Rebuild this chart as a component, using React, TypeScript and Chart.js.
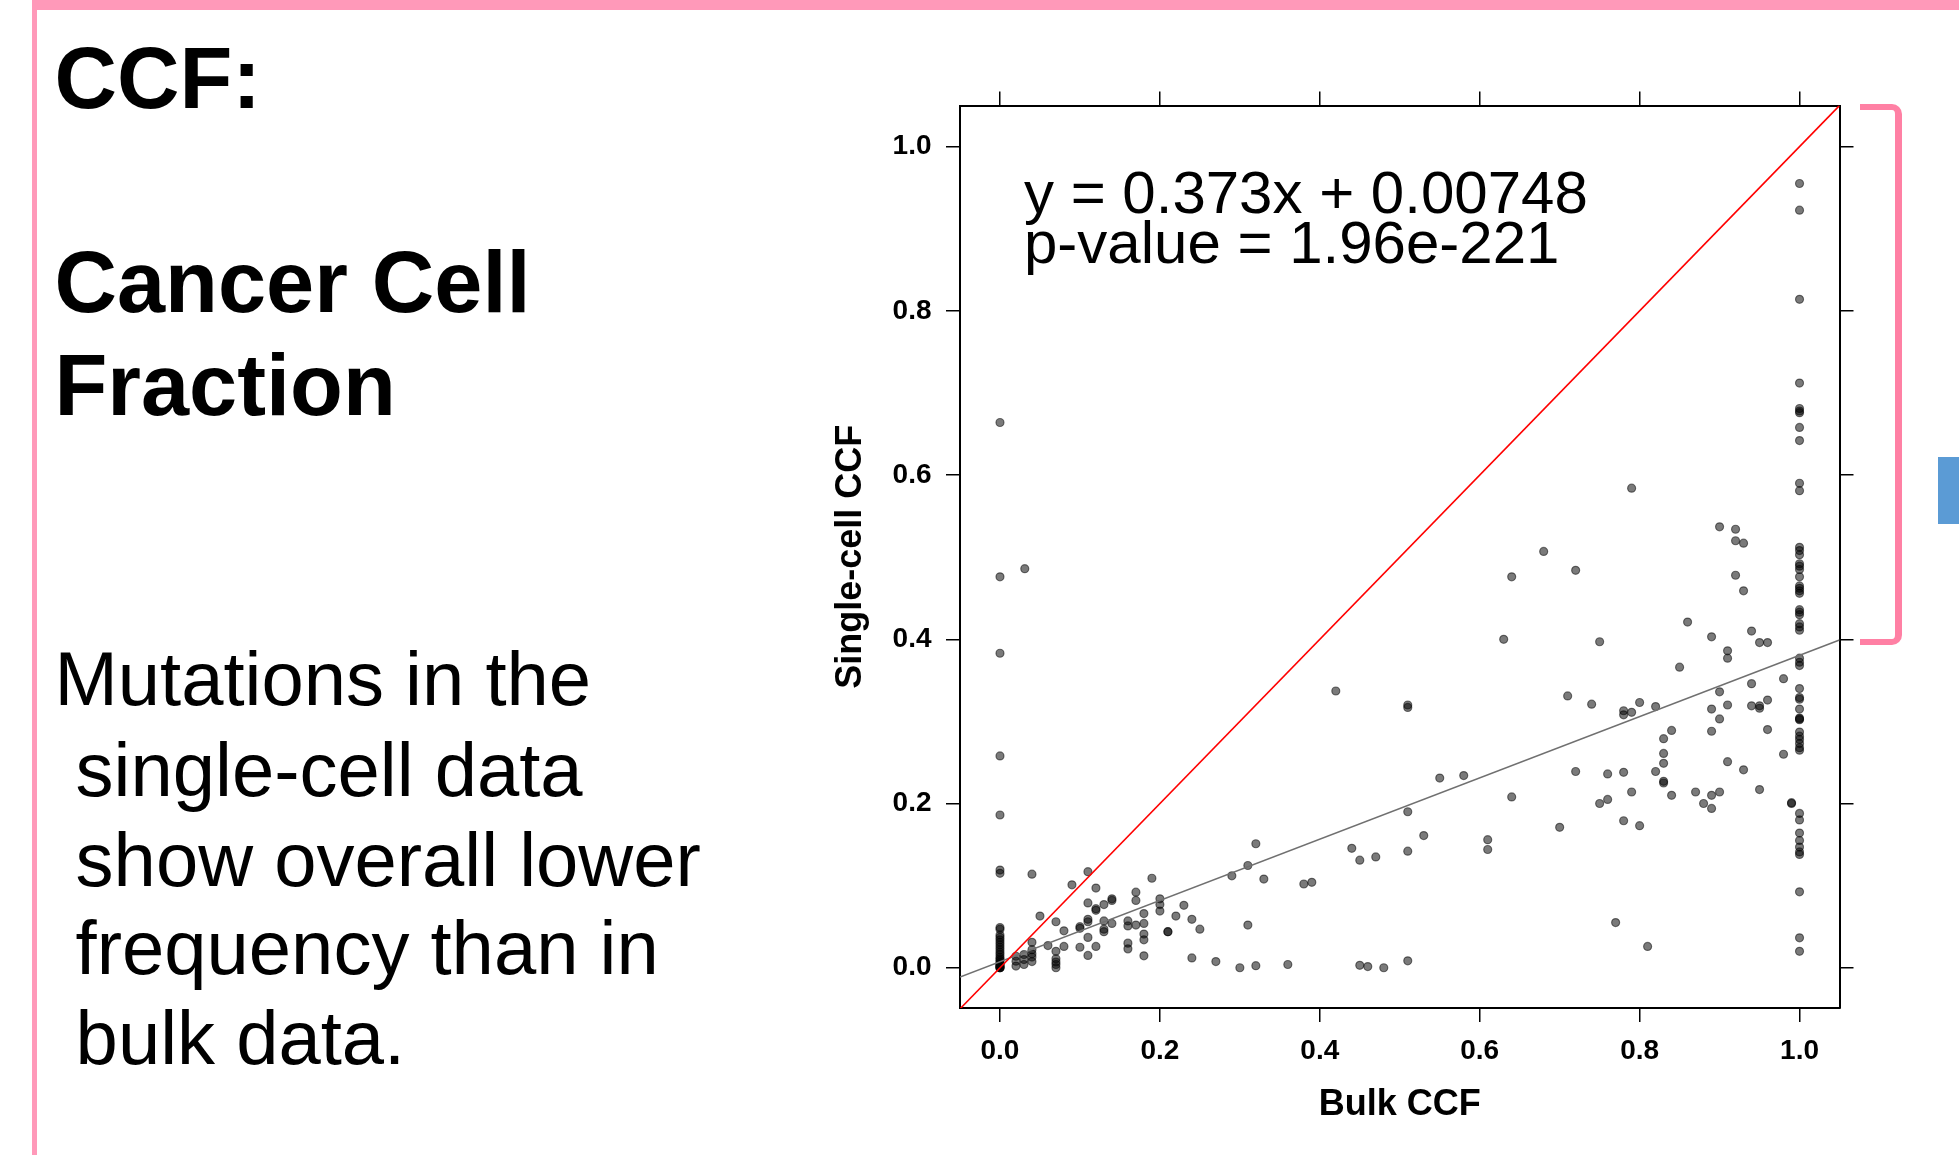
import React, { useEffect, useRef } from "react";
import { Chart, registerables } from "chart.js";

Chart.register(...registerables);

// ---------- data ----------
const bulkCCF = [
  // x = 0 column
  0, 0, 0, 0, 0, 0, 0, 0, 0, 0, 0, 0, 0, 0, 0, 0, 0, 0, 0, 0, 0, 0, 0, 0, 0, 0, 0, 0, 0, 0,
  // low bulk CCF
  0.031, 0.02, 0.02, 0.02, 0.03, 0.03, 0.03, 0.04, 0.04, 0.04, 0.04, 0.04, 0.04, 0.05, 0.06,
  0.07, 0.07, 0.07, 0.07, 0.07, 0.07, 0.08, 0.08, 0.09, 0.1, 0.1, 0.1, 0.11, 0.11, 0.11, 0.11,
  0.11, 0.11, 0.12, 0.12, 0.12, 0.12, 0.13, 0.13, 0.13, 0.13, 0.14, 0.14, 0.14, 0.16, 0.16,
  0.16, 0.16, 0.17, 0.17, 0.17, 0.18, 0.18, 0.18, 0.18, 0.18, 0.19, 0.2, 0.2, 0.2, 0.21, 0.21,
  0.22, 0.23, 0.24, 0.24, 0.25, 0.27, 0.29, 0.3, 0.31, 0.31, 0.32, 0.32, 0.33, 0.36, 0.38,
  0.39, 0.42, 0.44, 0.45, 0.45, 0.46, 0.47, 0.48,
  // mid bulk CCF
  0.51, 0.51, 0.51, 0.51, 0.51, 0.53, 0.55, 0.58, 0.61, 0.61, 0.63, 0.64, 0.64, 0.68, 0.7,
  0.71, 0.72, 0.72, 0.74, 0.75, 0.75, 0.76, 0.76, 0.77, 0.78, 0.78, 0.78, 0.78, 0.79, 0.79,
  0.79, 0.8, 0.8, 0.81,
  // high bulk CCF
  0.82, 0.82, 0.83, 0.83, 0.83, 0.83, 0.83, 0.84, 0.84, 0.85, 0.86, 0.87, 0.88, 0.89, 0.89,
  0.89, 0.89, 0.89, 0.9, 0.9, 0.9, 0.9, 0.91, 0.91, 0.91, 0.91, 0.92, 0.92, 0.92, 0.93, 0.93,
  0.93, 0.94, 0.94, 0.94, 0.95, 0.95, 0.95, 0.95, 0.96, 0.96, 0.96, 0.98, 0.98, 0.99, 0.99,
  // x = 1 column
  1, 1, 1, 1, 1, 1, 1, 1, 1, 1, 1, 1, 1, 1, 1, 1, 1, 1, 1, 1, 1, 1, 1, 1, 1, 1, 1, 1, 1, 1,
  1, 1, 1, 1, 1, 1, 1, 1, 1, 1, 1, 1, 1, 1, 1, 1, 1, 1, 1, 1, 1, 1, 1, 1,
];

const singleCellCCF = [
  // x = 0 column
  0.664, 0.476, 0.383, 0.258, 0.186, 0.119, 0.115, 0.049, 0.047, 0.04, 0.037, 0.034, 0.031,
  0.028, 0.025, 0.022, 0.019, 0.016, 0.013, 0.011, 0.009, 0.007, 0.005, 0.003, 0.002, 0.001,
  0.0, 0.0, 0.0, 0.004,
  // low bulk CCF
  0.486, 0.014, 0.008, 0.002, 0.016, 0.01, 0.004, 0.114, 0.031, 0.022, 0.017, 0.013, 0.0075,
  0.063, 0.027, 0.056, 0.02, 0.011, 0.007, 0.004, 0.0, 0.045, 0.026, 0.101, 0.05, 0.048, 0.025,
  0.117, 0.079, 0.059, 0.056, 0.037, 0.015, 0.097, 0.072, 0.07, 0.026, 0.077, 0.057, 0.047,
  0.044, 0.084, 0.082, 0.054, 0.057, 0.051, 0.03, 0.023, 0.092, 0.082, 0.052, 0.066, 0.054,
  0.041, 0.034, 0.0145, 0.109, 0.084, 0.077, 0.069, 0.044, 0.044, 0.063, 0.076, 0.059, 0.012,
  0.047, 0.0075, 0.112, 0.0, 0.1245, 0.052, 0.151, 0.0025, 0.108, 0.004, 0.102, 0.104, 0.337,
  0.1455, 0.131, 0.003, 0.0015, 0.135, 0.0,
  // mid bulk CCF
  0.32, 0.317, 0.19, 0.142, 0.0085, 0.161, 0.231, 0.234, 0.156, 0.144, 0.4, 0.476, 0.208,
  0.507, 0.171, 0.331, 0.484, 0.239, 0.321, 0.397, 0.2, 0.236, 0.205, 0.055, 0.313, 0.308,
  0.238, 0.179, 0.584, 0.311, 0.214, 0.323, 0.173, 0.026,
  // high bulk CCF
  0.318, 0.239, 0.279, 0.261, 0.249, 0.227, 0.225, 0.289, 0.21, 0.366, 0.421, 0.214, 0.2,
  0.403, 0.315, 0.288, 0.21, 0.194, 0.537, 0.336, 0.303, 0.214, 0.386, 0.377, 0.32, 0.251,
  0.534, 0.52, 0.478, 0.517, 0.459, 0.241, 0.41, 0.346, 0.319, 0.396, 0.319, 0.316, 0.217,
  0.396, 0.326, 0.29, 0.352, 0.26, 0.201, 0.2,
  // x = 1 column
  0.955, 0.9225, 0.814, 0.712, 0.681, 0.678, 0.676, 0.658, 0.642, 0.59, 0.581, 0.512, 0.508,
  0.503, 0.492, 0.489, 0.485, 0.476, 0.465, 0.462, 0.459, 0.456, 0.436, 0.433, 0.43, 0.419,
  0.415, 0.411, 0.377, 0.372, 0.368, 0.34, 0.329, 0.327, 0.315, 0.304, 0.303, 0.302, 0.287,
  0.282, 0.278, 0.273, 0.268, 0.265, 0.188, 0.18, 0.164, 0.155, 0.147, 0.141, 0.138, 0.0925,
  0.0365, 0.02,
];

const tickValues = [0, 0.2, 0.4, 0.6, 0.8, 1.0];
const xMin = -0.05;
const xMax = 1.05;
const yMin = -0.049;
const yMax = 1.05;

// y = x reference line and fitted line (y = 0.373x + 0.00748) end points
const identityX = [-0.05, 1.05];
const identityY = [-0.05, 1.05];
const fitX = [-0.05, 1.05];
const fitY = [-0.01117, 0.39913];

const annotationLines = ["y = 0.373x + 0.00748", "p-value = 1.96e-221"];
const annotationX = 0.03;
const annotationY = [0.919, 0.858];

const xTitle = "Bulk CCF";
const yTitle = "Single-cell CCF";

const headingLines = ["CCF:", "Cancer Cell", "Fraction"];
const bodyLines = ["Mutations in the", " single-cell data", " show overall lower", " frequency than in", " bulk data."];

// ---------- styling ----------
const FONT = '"Liberation Sans", Arial, Helvetica, sans-serif';
const PINK = "#FF99B9";
const BRACKET_PINK = "#FF80A4";

const setTicks = (axis: any) => {
  axis.ticks = tickValues.map((v) => ({ value: v }));
};

const gridOpts = {
  display: true,
  drawOnChartArea: false,
  drawTicks: true,
  tickLength: 14,
  color: "#000",
  lineWidth: 1.5,
};
const borderOpts = { display: true, color: "#000", width: 2 };

const annotationPlugin = {
  id: "annotationText",
  afterDatasetsDraw(chart: any) {
    const { ctx, scales } = chart;
    const xs = scales.x;
    const ys = scales.y;
    ctx.save();
    ctx.font = `60px ${FONT}`;
    ctx.fillStyle = "#000";
    ctx.textAlign = "left";
    ctx.textBaseline = "alphabetic";
    annotationLines.forEach((t, i) => {
      ctx.fillText(t, xs.getPixelForValue(annotationX), ys.getPixelForValue(annotationY[i]));
    });
    ctx.restore();
  },
};

function ScatterChart() {
  const ref = useRef<HTMLCanvasElement | null>(null);
  useEffect(() => {
    if (!ref.current) return;
    const points = bulkCCF.map((x, i) => ({ x, y: singleCellCCF[i] }));
    const chart = new Chart(ref.current, {
      type: "scatter",
      data: {
        datasets: [
          {
            type: "line",
            label: "y = x",
            data: identityX.map((x, i) => ({ x, y: identityY[i] })),
            borderColor: "#ff0000",
            borderWidth: 1.6,
            pointRadius: 0,
            fill: false,
            order: 0,
          } as any,
          {
            type: "line",
            label: "fit",
            data: fitX.map((x, i) => ({ x, y: fitY[i] })),
            borderColor: "#707070",
            borderWidth: 1.5,
            pointRadius: 0,
            fill: false,
            order: 1,
          } as any,
          {
            type: "scatter",
            label: "mutations",
            data: points,
            backgroundColor: "rgba(0,0,0,0.52)",
            borderColor: "rgba(0,0,0,0.5)",
            borderWidth: 1.2,
            pointRadius: 4,
            order: 2,
          } as any,
        ],
      },
      options: {
        responsive: false,
        animation: false,
        events: [],
        layout: { padding: 0 },
        plugins: { legend: { display: false }, tooltip: { enabled: false } },
        scales: {
          x: {
            type: "linear",
            position: "bottom",
            min: xMin,
            max: xMax,
            afterBuildTicks: setTicks,
            afterFit: (s: any) => {
              s.height = 132;
            },
            grid: gridOpts,
            border: borderOpts,
            ticks: {
              autoSkip: false,
              maxRotation: 0,
              padding: 12,
              color: "#000",
              font: { family: FONT, size: 28, weight: "bold" },
              callback: (v: any) => Number(v).toFixed(1),
            },
            title: {
              display: true,
              text: xTitle,
              color: "#000",
              font: { family: FONT, size: 36, weight: "bold" },
              padding: { top: 0, bottom: 13.5 },
            },
          },
          x2: {
            type: "linear",
            position: "top",
            min: xMin,
            max: xMax,
            afterBuildTicks: setTicks,
            afterFit: (s: any) => {
              s.height = 45.5;
            },
            grid: gridOpts,
            border: borderOpts,
            ticks: { display: false },
          },
          y: {
            type: "linear",
            position: "left",
            min: yMin,
            max: yMax,
            afterBuildTicks: setTicks,
            afterFit: (s: any) => {
              s.width = 140;
            },
            grid: gridOpts,
            border: borderOpts,
            ticks: {
              autoSkip: false,
              padding: 14.5,
              color: "#000",
              font: { family: FONT, size: 28, weight: "bold" },
              callback: (v: any) => Number(v).toFixed(1),
            },
            title: {
              display: true,
              text: yTitle,
              color: "#000",
              font: { family: FONT, size: 36, weight: "bold" },
              padding: { top: 9.5, bottom: 0 },
            },
          },
          y2: {
            type: "linear",
            position: "right",
            min: yMin,
            max: yMax,
            afterBuildTicks: setTicks,
            afterFit: (s: any) => {
              s.width = 80.5;
            },
            grid: gridOpts,
            border: borderOpts,
            ticks: { display: false },
          },
        },
      } as any,
      plugins: [annotationPlugin],
    });
    return () => chart.destroy();
  }, []);
  return (
    <canvas
      ref={ref}
      width={1100}
      height={1080}
      style={{ position: "absolute", left: 820, top: 60, width: 1100, height: 1080 }}
    />
  );
}

export default function App() {
  const headingTops = [35.1, 239.3, 341.8];
  const bodyTops = [641.2, 732.2, 821.7, 910.2, 1000.1];
  return (
    <div
      style={{
        position: "absolute",
        left: 0,
        top: 0,
        width: 1959,
        height: 1155,
        overflow: "hidden",
        background: "#fff",
        fontFamily: FONT,
        color: "#000",
      }}
    >
      {/* pink slide frame */}
      <div
        style={{
          position: "absolute",
          left: 32,
          top: 0,
          width: 3000,
          height: 3000,
          borderLeft: `5px solid ${PINK}`,
          borderTop: `10px solid ${PINK}`,
        }}
      />
      {headingLines.map((t, i) => (
        <div
          key={"h" + i}
          style={{
            position: "absolute",
            left: 54.5,
            top: headingTops[i],
            fontSize: 86.5,
            lineHeight: "86.5px",
            fontWeight: "bold",
            whiteSpace: "pre",
          }}
        >
          {t}
        </div>
      ))}
      {bodyLines.map((t, i) => (
        <div
          key={"b" + i}
          style={{
            position: "absolute",
            left: 54.5,
            top: bodyTops[i],
            fontSize: 76,
            lineHeight: "76px",
            whiteSpace: "pre",
          }}
        >
          {t}
        </div>
      ))}
      <ScatterChart />
      {/* bracket */}
      <div
        style={{
          position: "absolute",
          left: 1860,
          top: 104,
          width: 42,
          height: 541,
          boxSizing: "border-box",
          borderTop: `6px solid ${BRACKET_PINK}`,
          borderRight: `7px solid ${BRACKET_PINK}`,
          borderBottom: `6px solid ${BRACKET_PINK}`,
          borderRadius: "0 10px 10px 0",
        }}
      />
      {/* blue box at right edge */}
      <div
        style={{
          position: "absolute",
          left: 1938,
          top: 457,
          width: 30,
          height: 67,
          background: "#5B9BD5",
        }}
      />
    </div>
  );
}
